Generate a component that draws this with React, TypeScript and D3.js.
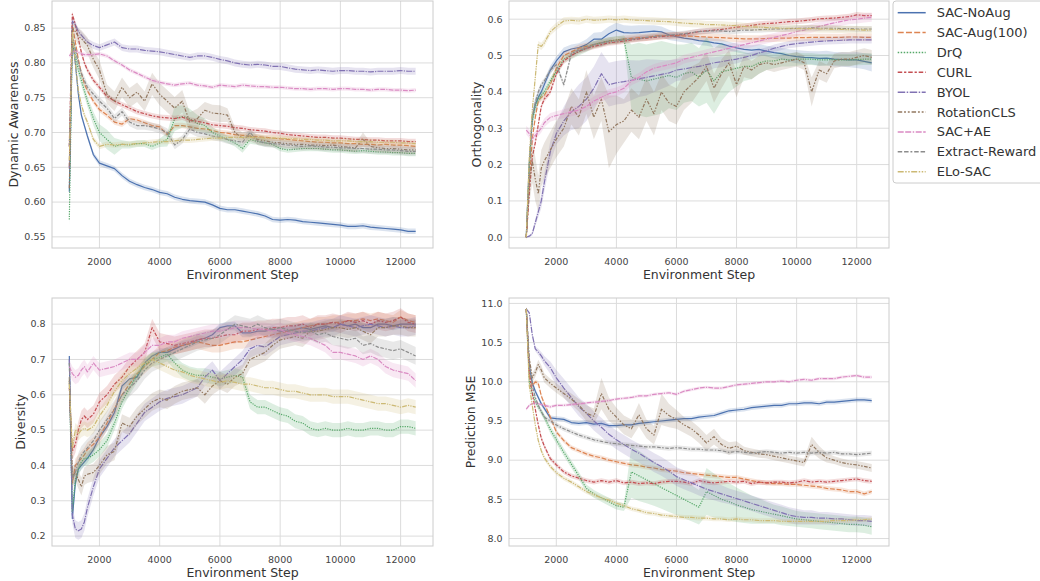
import React from "react";
import * as d3 from "d3";

const steps = [1000, 1100, 1200, 1300, 1400, 1500, 1600, 1800,
  2000, 2250, 2500, 2750, 3000, 3250, 3500, 3750, 4000,
  4250, 4500, 4750, 5000, 5250, 5500, 5750, 6000,
  6250, 6500, 6750, 7000, 7250, 7500, 7750, 8000,
  8250, 8500, 8750, 9000, 9250, 9500, 9750, 10000,
  10250, 10500, 10750, 11000, 11250, 11500, 11750, 12000,
  12250, 12500];

const methods = ["SAC-NoAug", "SAC-Aug(100)", "DrQ", "CURL", "BYOL", "RotationCLS", "SAC+AE", "Extract-Reward", "ELo-SAC"];
const palette = ["#4c72b0", "#dd8452", "#55a868", "#c44e52", "#8172b3", "#937860", "#da8bc3", "#8c8c8c", "#ccb974"];
// seaborn style dash specs (in linewidth units)
const dashes = [[], [4, 1.5], [1, 1], [3, 1.25, 1.5, 1.25], [5, 1, 1, 1], [3, 1.25, 1.25, 1.25, 1.25, 1.25], [4, 1, 4, 1, 1, 1], [3, 1.25, 3, 1.25, 1.25, 1.25], [4, 1, 1, 1, 1, 1]];

const xTicks = [2000, 4000, 6000, 8000, 10000, 12000];

// ---- Dynamic Awareness
const daNoAug = [0.615, 0.835, 0.80, 0.755, 0.725, 0.71, 0.695, 0.668,
  0.656, 0.652, 0.648, 0.638, 0.630, 0.625, 0.621, 0.618, 0.614,
  0.612, 0.607, 0.604, 0.602, 0.601, 0.600, 0.596, 0.591,
  0.589, 0.589, 0.587, 0.585, 0.583, 0.580, 0.575, 0.574,
  0.575, 0.574, 0.572, 0.571, 0.570, 0.569, 0.568, 0.567,
  0.565, 0.565, 0.566, 0.564, 0.563, 0.562, 0.561, 0.560,
  0.558, 0.558];
const daAug = [0.65, 0.855, 0.83, 0.805, 0.785, 0.77, 0.76, 0.745,
  0.733, 0.725, 0.715, 0.712, 0.72, 0.718, 0.714, 0.71, 0.708,
  0.697, 0.71, 0.71, 0.708, 0.706, 0.705, 0.703, 0.70,
  0.699, 0.697, 0.696, 0.695, 0.694, 0.693, 0.692, 0.691,
  0.69, 0.689, 0.688, 0.687, 0.686, 0.686, 0.685, 0.685,
  0.684, 0.684, 0.683, 0.683, 0.682, 0.683, 0.682, 0.682,
  0.681, 0.68];
const daDrq = [0.575, 0.835, 0.81, 0.79, 0.775, 0.76, 0.745, 0.72,
  0.70, 0.69, 0.68, 0.683, 0.682, 0.684, 0.684, 0.68, 0.685,
  0.69, 0.72, 0.723, 0.72, 0.713, 0.71, 0.70, 0.695,
  0.69, 0.685, 0.677, 0.69, 0.687, 0.685, 0.683, 0.677,
  0.675, 0.676, 0.677, 0.677, 0.677, 0.676, 0.675, 0.675,
  0.674, 0.673, 0.674, 0.673, 0.672, 0.672, 0.671, 0.671,
  0.670, 0.670];
const daCurl = [0.68, 0.87, 0.855, 0.835, 0.815, 0.80, 0.79, 0.775,
  0.765, 0.752, 0.745, 0.74, 0.735, 0.73, 0.727, 0.724, 0.722,
  0.721, 0.72, 0.722, 0.718, 0.716, 0.714, 0.711, 0.71,
  0.709, 0.707, 0.706, 0.704, 0.703, 0.702, 0.70, 0.699,
  0.697, 0.696, 0.695, 0.694, 0.693, 0.693, 0.692, 0.692,
  0.691, 0.69, 0.69, 0.689, 0.689, 0.688, 0.688, 0.688,
  0.687, 0.687];
const daByol = [0.648, 0.86, 0.855, 0.845, 0.84, 0.835, 0.83, 0.825,
  0.822, 0.826, 0.83, 0.822, 0.82, 0.82, 0.818, 0.817, 0.816,
  0.814, 0.812, 0.81, 0.808, 0.81, 0.81, 0.808, 0.805,
  0.803, 0.80, 0.798, 0.797, 0.798, 0.797, 0.795, 0.795,
  0.793, 0.791, 0.79, 0.789, 0.79, 0.789, 0.788, 0.789,
  0.789, 0.788, 0.788, 0.787, 0.788, 0.788, 0.788, 0.789,
  0.788, 0.788];
const daRot = [0.62, 0.85, 0.845, 0.838, 0.835, 0.83, 0.825, 0.805,
  0.79, 0.755, 0.745, 0.765, 0.75, 0.758, 0.745, 0.77, 0.755,
  0.745, 0.735, 0.745, 0.715, 0.72, 0.732, 0.728, 0.727,
  0.725, 0.70, 0.692, 0.695, 0.69, 0.688, 0.686, 0.685,
  0.684, 0.683, 0.683, 0.682, 0.682, 0.681, 0.682, 0.68,
  0.679, 0.678, 0.69, 0.68, 0.678, 0.677, 0.677, 0.676,
  0.675, 0.675];
const daAe = [0.81, 0.815, 0.818, 0.815, 0.813, 0.812, 0.812, 0.812,
  0.813, 0.81, 0.803, 0.797, 0.79, 0.785, 0.78, 0.775, 0.772,
  0.77, 0.768, 0.77, 0.771, 0.768, 0.767, 0.765, 0.768,
  0.767, 0.766, 0.768, 0.767, 0.766, 0.766, 0.765, 0.765,
  0.764, 0.763, 0.763, 0.762, 0.763, 0.763, 0.762, 0.763,
  0.763, 0.762, 0.762, 0.761, 0.762, 0.762, 0.761, 0.761,
  0.76, 0.761];
const daReward = [0.68, 0.84, 0.82, 0.80, 0.785, 0.775, 0.765, 0.755,
  0.745, 0.735, 0.72, 0.73, 0.715, 0.71, 0.71, 0.708, 0.705,
  0.70, 0.682, 0.69, 0.705, 0.70, 0.698, 0.695, 0.693,
  0.69, 0.688, 0.686, 0.70, 0.688, 0.685, 0.684, 0.683,
  0.682, 0.681, 0.68, 0.681, 0.68, 0.679, 0.679, 0.678,
  0.678, 0.677, 0.677, 0.676, 0.676, 0.675, 0.675, 0.674,
  0.673, 0.673];
const daElo = [0.66, 0.845, 0.80, 0.76, 0.74, 0.725, 0.715, 0.69,
  0.68, 0.683, 0.682, 0.683, 0.683, 0.684, 0.685, 0.686, 0.687,
  0.687, 0.688, 0.689, 0.689, 0.69, 0.691, 0.692, 0.692,
  0.693, 0.693, 0.693, 0.693, 0.693, 0.692, 0.692, 0.692,
  0.691, 0.691, 0.69, 0.69, 0.689, 0.689, 0.688, 0.688,
  0.688, 0.687, 0.687, 0.687, 0.686, 0.686, 0.686, 0.685,
  0.685, 0.684];
const daDrqBand = [0.01, 0.01, 0.01, 0.008, 0.008, 0.008, 0.008, 0.01,
  0.012, 0.014, 0.012, 0.006, 0.005, 0.005, 0.005, 0.005, 0.006,
  0.01, 0.018, 0.016, 0.014, 0.012, 0.01, 0.008, 0.006,
  0.005, 0.005, 0.006, 0.006, 0.005, 0.005, 0.004, 0.004,
  0.004, 0.004, 0.004, 0.004, 0.004, 0.004, 0.004, 0.004,
  0.004, 0.004, 0.004, 0.004, 0.004, 0.004, 0.004, 0.004,
  0.004, 0.004];
const daRotBand = [0.01, 0.01, 0.012, 0.012, 0.012, 0.012, 0.012, 0.012,
  0.014, 0.014, 0.014, 0.014, 0.014, 0.014, 0.014, 0.016, 0.016,
  0.016, 0.016, 0.016, 0.014, 0.014, 0.012, 0.012, 0.012,
  0.01, 0.008, 0.008, 0.008, 0.007, 0.007, 0.006, 0.006,
  0.006, 0.006, 0.006, 0.006, 0.006, 0.006, 0.006, 0.006,
  0.006, 0.006, 0.01, 0.006, 0.006, 0.006, 0.006, 0.006,
  0.006, 0.006];

// ---- Orthogonality
const orNoAug = [0, 0.2, 0.33, 0.365, 0.385, 0.40, 0.42, 0.46,
  0.485, 0.51, 0.518, 0.522, 0.53, 0.545, 0.545, 0.56, 0.57,
  0.563, 0.562, 0.563, 0.565, 0.567, 0.565, 0.557, 0.552,
  0.548, 0.545, 0.541, 0.539, 0.535, 0.532, 0.526, 0.521,
  0.517, 0.515, 0.517, 0.512, 0.508, 0.505, 0.50, 0.497,
  0.495, 0.494, 0.492, 0.493, 0.49, 0.489, 0.488, 0.488,
  0.484, 0.48];
const orAug = [0, 0.15, 0.27, 0.33, 0.375, 0.385, 0.39, 0.42,
  0.465, 0.50, 0.51, 0.52, 0.525, 0.53, 0.535, 0.54, 0.542,
  0.545, 0.547, 0.549, 0.55, 0.553, 0.555, 0.555, 0.555,
  0.554, 0.553, 0.552, 0.551, 0.55, 0.549, 0.548, 0.547,
  0.546, 0.546, 0.546, 0.547, 0.547, 0.548, 0.548, 0.549,
  0.549, 0.55, 0.55, 0.55, 0.55, 0.55, 0.551, 0.551,
  0.55, 0.55];
const orDrq = [0, 0.2, 0.32, 0.36, 0.38, 0.39, 0.40, 0.43,
  0.455, 0.49, 0.50, 0.51, 0.52, 0.53, 0.535, 0.54, 0.543,
  0.545, 0.44, 0.435, 0.43, 0.435, 0.44, 0.445, 0.44,
  0.45, 0.455, 0.44, 0.46, 0.43, 0.455, 0.46, 0.465,
  0.47, 0.47, 0.48, 0.485, 0.485, 0.49, 0.488, 0.49,
  0.49, 0.49, 0.488, 0.488, 0.489, 0.488, 0.488, 0.489,
  0.49, 0.49];
const orCurl = [0, 0.12, 0.22, 0.26, 0.31, 0.36, 0.38, 0.40,
  0.45, 0.485, 0.50, 0.512, 0.52, 0.525, 0.53, 0.535, 0.537,
  0.54, 0.543, 0.546, 0.548, 0.55, 0.552, 0.554, 0.556,
  0.558, 0.562, 0.566, 0.568, 0.57, 0.572, 0.575, 0.578,
  0.58, 0.583, 0.586, 0.588, 0.589, 0.591, 0.593, 0.594,
  0.596, 0.598, 0.601, 0.602, 0.603, 0.605, 0.607, 0.612,
  0.61, 0.61];
const orByol = [0, 0.003, 0.01, 0.04, 0.07, 0.10, 0.15, 0.235,
  0.285, 0.32, 0.345, 0.36, 0.38, 0.41, 0.45, 0.42, 0.425,
  0.428, 0.432, 0.436, 0.44, 0.444, 0.448, 0.452, 0.46,
  0.463, 0.467, 0.47, 0.475, 0.48, 0.483, 0.487, 0.49,
  0.495, 0.50, 0.507, 0.513, 0.52, 0.525, 0.53, 0.533,
  0.535, 0.537, 0.539, 0.54, 0.541, 0.542, 0.543, 0.543,
  0.543, 0.543];
const orRot = [0, 0.15, 0.21, 0.16, 0.12, 0.19, 0.21, 0.24,
  0.27, 0.30, 0.36, 0.33, 0.40, 0.33, 0.38, 0.29, 0.31,
  0.32, 0.35, 0.33, 0.38, 0.34, 0.40, 0.37, 0.36,
  0.40, 0.42, 0.44, 0.47, 0.41, 0.45, 0.48, 0.42,
  0.47, 0.46, 0.475, 0.48, 0.475, 0.48, 0.485, 0.49,
  0.48, 0.40, 0.46, 0.45, 0.485, 0.49, 0.49, 0.495,
  0.50, 0.495];
const orAe = [0.295, 0.285, 0.27, 0.28, 0.29, 0.30, 0.315, 0.33,
  0.335, 0.34, 0.345, 0.35, 0.36, 0.375, 0.385, 0.395, 0.40,
  0.41, 0.43, 0.44, 0.455, 0.465, 0.47, 0.475, 0.48,
  0.49, 0.495, 0.50, 0.505, 0.51, 0.515, 0.52, 0.525,
  0.53, 0.535, 0.54, 0.545, 0.55, 0.555, 0.56, 0.566,
  0.57, 0.575, 0.58, 0.585, 0.59, 0.594, 0.598, 0.60,
  0.603, 0.605];
const orReward = [0, 0.2, 0.33, 0.37, 0.40, 0.42, 0.43, 0.46,
  0.475, 0.42, 0.505, 0.515, 0.52, 0.53, 0.535, 0.538, 0.54,
  0.543, 0.545, 0.547, 0.55, 0.552, 0.554, 0.556, 0.558,
  0.56, 0.563, 0.566, 0.567, 0.568, 0.568, 0.566, 0.568,
  0.57, 0.57, 0.571, 0.572, 0.573, 0.573, 0.574, 0.575,
  0.575, 0.576, 0.575, 0.575, 0.575, 0.574, 0.574, 0.573,
  0.573, 0.573];
const orElo = [0, 0.22, 0.35, 0.44, 0.53, 0.525, 0.535, 0.565,
  0.58, 0.595, 0.597, 0.595, 0.60, 0.597, 0.598, 0.60, 0.598,
  0.60, 0.598, 0.597, 0.596, 0.595, 0.594, 0.593, 0.591,
  0.589, 0.588, 0.587, 0.585, 0.585, 0.584, 0.583, 0.582,
  0.58, 0.579, 0.578, 0.577, 0.576, 0.575, 0.575, 0.574,
  0.574, 0.574, 0.573, 0.573, 0.572, 0.572, 0.571, 0.571,
  0.57, 0.57];
const orNoAugBand = [0, 0.02, 0.02, 0.02, 0.015, 0.015, 0.012, 0.012,
  0.012, 0.012, 0.012, 0.012, 0.015, 0.018, 0.02, 0.02, 0.02,
  0.02, 0.02, 0.02, 0.018, 0.016, 0.015, 0.014, 0.013,
  0.012, 0.012, 0.012, 0.012, 0.012, 0.012, 0.012, 0.012,
  0.012, 0.013, 0.014, 0.015, 0.016, 0.016, 0.017, 0.018,
  0.018, 0.018, 0.02, 0.02, 0.02, 0.02, 0.02, 0.022,
  0.022, 0.024];
const orDrqBand = [0, 0.02, 0.02, 0.015, 0.012, 0.012, 0.01, 0.01,
  0.01, 0.01, 0.01, 0.01, 0.01, 0.01, 0.01, 0.01, 0.01,
  0.01, 0.09, 0.1, 0.1, 0.1, 0.1, 0.09, 0.09,
  0.08, 0.08, 0.08, 0.09, 0.09, 0.08, 0.06, 0.05,
  0.04, 0.035, 0.03, 0.025, 0.02, 0.02, 0.018, 0.018,
  0.016, 0.016, 0.016, 0.016, 0.016, 0.016, 0.016, 0.016,
  0.016, 0.016];
const orByolBand = [0, 0.003, 0.005, 0.01, 0.015, 0.02, 0.025, 0.03,
  0.03, 0.04, 0.05, 0.06, 0.06, 0.06, 0.06, 0.06, 0.06,
  0.06, 0.055, 0.05, 0.05, 0.045, 0.04, 0.035, 0.03,
  0.03, 0.025, 0.02, 0.02, 0.015, 0.015, 0.012, 0.012,
  0.01, 0.01, 0.01, 0.01, 0.01, 0.01, 0.01, 0.01,
  0.01, 0.01, 0.01, 0.01, 0.01, 0.01, 0.01, 0.01,
  0.01, 0.01];
const orRotBand = [0, 0.06, 0.06, 0.06, 0.05, 0.05, 0.05, 0.05,
  0.05, 0.05, 0.05, 0.05, 0.06, 0.06, 0.06, 0.1, 0.08,
  0.06, 0.06, 0.06, 0.06, 0.06, 0.05, 0.05, 0.05,
  0.05, 0.05, 0.04, 0.04, 0.04, 0.04, 0.035, 0.035,
  0.03, 0.025, 0.025, 0.02, 0.02, 0.02, 0.02, 0.02,
  0.02, 0.04, 0.025, 0.025, 0.02, 0.02, 0.02, 0.02,
  0.02, 0.02];

// ---- Diversity
const dvNoAug = [0.71, 0.25, 0.35, 0.39, 0.40, 0.41, 0.42, 0.445,
  0.48, 0.51, 0.55, 0.625, 0.645, 0.65, 0.69, 0.71, 0.72,
  0.72, 0.73, 0.74, 0.745, 0.755, 0.76, 0.77, 0.79,
  0.795, 0.795, 0.775, 0.775, 0.78, 0.78, 0.785, 0.78,
  0.78, 0.785, 0.79, 0.785, 0.79, 0.795, 0.79, 0.80,
  0.795, 0.80, 0.79, 0.79, 0.80, 0.80, 0.795, 0.80,
  0.80, 0.80];
const dvAug = [0.64, 0.35, 0.40, 0.41, 0.42, 0.43, 0.445, 0.46,
  0.48, 0.52, 0.56, 0.60, 0.63, 0.66, 0.68, 0.70, 0.72,
  0.725, 0.735, 0.74, 0.745, 0.75, 0.745, 0.74, 0.74,
  0.745, 0.75, 0.75, 0.755, 0.76, 0.765, 0.77, 0.775,
  0.78, 0.785, 0.79, 0.795, 0.80, 0.80, 0.805, 0.805,
  0.81, 0.81, 0.815, 0.81, 0.815, 0.81, 0.805, 0.82,
  0.81, 0.805];
const dvDrq = [0.64, 0.27, 0.36, 0.39, 0.41, 0.42, 0.42, 0.43,
  0.445, 0.47, 0.52, 0.58, 0.62, 0.655, 0.685, 0.70, 0.705,
  0.715, 0.69, 0.67, 0.66, 0.655, 0.655, 0.65, 0.645,
  0.65, 0.655, 0.65, 0.58, 0.565, 0.565, 0.555, 0.545,
  0.54, 0.525, 0.52, 0.505, 0.50, 0.505, 0.50, 0.50,
  0.505, 0.50, 0.50, 0.505, 0.505, 0.50, 0.50, 0.51,
  0.51, 0.505];
const dvCurl = [0.62, 0.44, 0.46, 0.50, 0.53, 0.54, 0.53, 0.545,
  0.58, 0.60, 0.63, 0.65, 0.68, 0.70, 0.72, 0.79, 0.75,
  0.745, 0.74, 0.745, 0.75, 0.755, 0.76, 0.76, 0.765,
  0.77, 0.77, 0.78, 0.78, 0.785, 0.785, 0.79, 0.79,
  0.795, 0.795, 0.80, 0.79, 0.80, 0.80, 0.805, 0.80,
  0.81, 0.805, 0.81, 0.80, 0.81, 0.805, 0.81, 0.82,
  0.805, 0.80];
const dvByol = [0.70, 0.26, 0.22, 0.215, 0.22, 0.24, 0.28, 0.34,
  0.39, 0.42, 0.45, 0.47, 0.49, 0.52, 0.55, 0.565, 0.58,
  0.59, 0.595, 0.60, 0.61, 0.62, 0.65, 0.67, 0.64,
  0.66, 0.68, 0.70, 0.73, 0.74, 0.735, 0.75, 0.765,
  0.77, 0.775, 0.78, 0.78, 0.785, 0.79, 0.79, 0.80,
  0.795, 0.79, 0.795, 0.80, 0.795, 0.79, 0.795, 0.79,
  0.79, 0.795];
const dvRot = [0.65, 0.37, 0.38, 0.36, 0.34, 0.37, 0.375, 0.38,
  0.40, 0.43, 0.44, 0.52, 0.51, 0.54, 0.56, 0.58, 0.59,
  0.585, 0.60, 0.61, 0.615, 0.62, 0.60, 0.625, 0.64,
  0.63, 0.65, 0.66, 0.70, 0.71, 0.72, 0.74, 0.755,
  0.76, 0.765, 0.76, 0.78, 0.78, 0.785, 0.79, 0.79,
  0.785, 0.79, 0.78, 0.77, 0.79, 0.79, 0.795, 0.795,
  0.79, 0.79];
const dvAe = [0.68, 0.66, 0.65, 0.655, 0.67, 0.68, 0.665, 0.69,
  0.67, 0.675, 0.68, 0.69, 0.70, 0.70, 0.72, 0.74, 0.74,
  0.75, 0.75, 0.76, 0.765, 0.77, 0.775, 0.78, 0.78,
  0.785, 0.79, 0.79, 0.79, 0.785, 0.785, 0.78, 0.785,
  0.775, 0.77, 0.765, 0.76, 0.75, 0.74, 0.72, 0.72,
  0.715, 0.71, 0.70, 0.71, 0.70, 0.68, 0.67, 0.665,
  0.66, 0.64];
const dvReward = [0.69, 0.36, 0.38, 0.41, 0.43, 0.44, 0.45, 0.47,
  0.50, 0.53, 0.56, 0.60, 0.62, 0.64, 0.67, 0.69, 0.70,
  0.71, 0.72, 0.73, 0.74, 0.75, 0.755, 0.76, 0.77,
  0.785, 0.80, 0.795, 0.79, 0.80, 0.79, 0.785, 0.79,
  0.785, 0.78, 0.775, 0.78, 0.77, 0.775, 0.765, 0.76,
  0.755, 0.76, 0.74, 0.745, 0.735, 0.73, 0.725, 0.73,
  0.72, 0.71];
const dvElo = [0.63, 0.45, 0.50, 0.49, 0.50, 0.505, 0.50, 0.51,
  0.54, 0.57, 0.61, 0.64, 0.66, 0.675, 0.69, 0.70, 0.69,
  0.68, 0.67, 0.665, 0.655, 0.65, 0.645, 0.64, 0.635,
  0.64, 0.635, 0.63, 0.63, 0.625, 0.62, 0.62, 0.615,
  0.61, 0.61, 0.605, 0.60, 0.60, 0.60, 0.595, 0.595,
  0.595, 0.59, 0.585, 0.58, 0.575, 0.575, 0.57, 0.565,
  0.57, 0.565];

// ---- Prediction MSE
const pmNoAug = [10.93, 10.2, 9.99, 9.88, 9.8, 9.72, 9.66, 9.54,
  9.53, 9.52, 9.48, 9.47, 9.48, 9.46, 9.47, 9.44, 9.44,
  9.45, 9.45, 9.47, 9.48, 9.49, 9.5, 9.51, 9.52,
  9.53, 9.53, 9.55, 9.56, 9.57, 9.6, 9.63, 9.64,
  9.65, 9.67, 9.68, 9.69, 9.7, 9.7, 9.72, 9.72,
  9.73, 9.73, 9.72, 9.74, 9.74, 9.75, 9.76, 9.77,
  9.77, 9.76];
const pmAug = [10.93, 10.1, 9.95, 10.0, 9.98, 9.82, 9.72, 9.55,
  9.36, 9.25, 9.16, 9.12, 9.08, 9.05, 9.03, 9.0, 8.98,
  8.96, 8.94, 8.93, 8.91, 8.9, 8.88, 8.87, 8.86,
  8.84, 8.83, 8.82, 8.81, 8.8, 8.79, 8.78, 8.78,
  8.76, 8.74, 8.72, 8.71, 8.7, 8.7, 8.69, 8.69,
  8.68, 8.67, 8.66, 8.64, 8.63, 8.62, 8.6, 8.6,
  8.57, 8.6];
const pmDrq = [10.93, 10.0, 9.85, 9.75, 9.68, 9.62, 9.55, 9.39,
  9.26, 9.1, 8.95, 8.8, 8.64, 8.57, 8.52, 8.47, 8.42,
  8.4, 8.85, 8.8, 8.75, 8.7, 8.65, 8.6, 8.55,
  8.5, 8.45, 8.4, 8.6, 8.55, 8.5, 8.47, 8.43,
  8.4, 8.37, 8.35, 8.33, 8.31, 8.29, 8.27, 8.25,
  8.24, 8.23, 8.22, 8.21, 8.2, 8.19, 8.18, 8.18,
  8.17, 8.15];
const pmCurl = [10.93, 10.1, 9.85, 9.65, 9.45, 9.28, 9.18, 9.02,
  8.94, 8.85, 8.8, 8.77, 8.74, 8.72, 8.74, 8.72, 8.74,
  8.71, 8.72, 8.7, 8.71, 8.7, 8.72, 8.73, 8.73,
  8.72, 8.7, 8.74, 8.72, 8.71, 8.72, 8.73, 8.72,
  8.73, 8.7, 8.72, 8.71, 8.72, 8.72, 8.71, 8.72,
  8.74, 8.72, 8.73, 8.72, 8.73, 8.74, 8.75, 8.76,
  8.74, 8.73];
const pmByol = [10.93, 10.88, 10.6, 10.42, 10.38, 10.33, 10.27, 10.18,
  10.05, 9.92, 9.8, 9.68, 9.6, 9.5, 9.42, 9.33, 9.26,
  9.2, 9.14, 9.09, 9.03, 8.97, 8.92, 8.86, 8.79,
  8.75, 8.71, 8.67, 8.63, 8.6, 8.57, 8.54, 8.51,
  8.48, 8.45, 8.42, 8.39, 8.36, 8.33, 8.3, 8.28,
  8.27, 8.27, 8.26, 8.26, 8.25, 8.25, 8.24, 8.23,
  8.23, 8.22];
const pmRot = [10.93, 10.3, 10.05, 10.12, 10.22, 10.15, 10.05, 9.98,
  9.92, 9.85, 9.78, 9.7, 9.6, 9.56, 9.85, 9.65, 9.55,
  9.45, 9.4, 9.58, 9.4, 9.32, 9.65, 9.57, 9.52,
  9.45, 9.4, 9.32, 9.22, 9.3, 9.2, 9.15, 9.18,
  9.12, 9.1, 9.08, 9.07, 9.05, 9.03, 9.01, 8.99,
  8.97, 9.2, 9.1, 9.03, 9.0, 8.97, 8.95, 8.94,
  8.92, 8.9];
const pmAe = [9.65, 9.7, 9.72, 9.73, 9.72, 9.71, 9.7, 9.68,
  9.7, 9.7, 9.71, 9.72, 9.73, 9.74, 9.75, 9.76, 9.78,
  9.79, 9.8, 9.82, 9.82, 9.84, 9.85, 9.86, 9.84,
  9.88, 9.9, 9.92, 9.93, 9.92, 9.92, 9.94, 9.96,
  9.97, 9.98, 9.99, 10.0, 10.0, 10.01, 10.0, 10.02,
  10.03, 10.02, 10.04, 10.04, 10.04, 10.06, 10.07, 10.08,
  10.06, 10.06];
const pmReward = [10.93, 10.2, 9.95, 9.8, 9.7, 9.62, 9.55, 9.5,
  9.45, 9.4, 9.36, 9.32, 9.29, 9.26, 9.24, 9.22, 9.21,
  9.2, 9.19, 9.18, 9.17, 9.17, 9.16, 9.15, 9.16,
  9.15, 9.14, 9.14, 9.13, 9.13, 9.12, 9.1, 9.11,
  9.1, 9.09, 9.1, 9.11, 9.1, 9.09, 9.1, 9.09,
  9.1, 9.09, 9.1, 9.09, 9.1, 9.08, 9.08, 9.07,
  9.08, 9.09];
const pmElo = [10.93, 9.95, 9.7, 9.45, 9.25, 9.12, 9.03, 8.92,
  8.84, 8.77, 8.72, 8.66, 8.6, 8.56, 8.52, 8.49, 8.45,
  8.42, 8.38, 8.36, 8.33, 8.32, 8.3, 8.29, 8.28,
  8.27, 8.27, 8.26, 8.26, 8.25, 8.25, 8.24, 8.25,
  8.24, 8.24, 8.23, 8.23, 8.23, 8.22, 8.22, 8.22,
  8.22, 8.22, 8.22, 8.22, 8.23, 8.23, 8.23, 8.24,
  8.24, 8.25];
const pmDrqBand = [0, 0.04, 0.04, 0.04, 0.04, 0.04, 0.04, 0.05,
  0.05, 0.05, 0.05, 0.05, 0.05, 0.05, 0.05, 0.05, 0.05,
  0.05, 0.33, 0.32, 0.3, 0.28, 0.27, 0.26, 0.25,
  0.24, 0.23, 0.22, 0.3, 0.28, 0.26, 0.24, 0.22,
  0.2, 0.18, 0.16, 0.14, 0.12, 0.12, 0.11, 0.1,
  0.1, 0.1, 0.1, 0.1, 0.1, 0.1, 0.1, 0.1,
  0.1, 0.1];
const pmByolBand = [0, 0.02, 0.03, 0.03, 0.04, 0.05, 0.06, 0.08,
  0.1, 0.12, 0.12, 0.12, 0.12, 0.12, 0.12, 0.12, 0.12,
  0.12, 0.12, 0.12, 0.12, 0.12, 0.12, 0.12, 0.12,
  0.12, 0.12, 0.12, 0.12, 0.11, 0.11, 0.1, 0.1,
  0.1, 0.1, 0.1, 0.1, 0.1, 0.1, 0.1, 0.1,
  0.09, 0.09, 0.08, 0.08, 0.08, 0.07, 0.07, 0.07,
  0.07, 0.07];
const pmRotBand = [0, 0.06, 0.06, 0.06, 0.06, 0.06, 0.06, 0.06,
  0.06, 0.06, 0.07, 0.08, 0.1, 0.1, 0.2, 0.15, 0.12,
  0.12, 0.12, 0.15, 0.12, 0.12, 0.2, 0.15, 0.12,
  0.1, 0.1, 0.1, 0.1, 0.1, 0.08, 0.08, 0.06,
  0.05, 0.05, 0.05, 0.05, 0.05, 0.05, 0.05, 0.05,
  0.05, 0.1, 0.08, 0.06, 0.05, 0.05, 0.05, 0.05,
  0.05, 0.05];

type Band = number | number[];
type PanelSpec = {
  label: string; x0: number; x1: number; y0: number; y1: number;
  yDomain: [number, number]; yTicks: number[]; fmt: string; ylabelX: number;
  series: number[][]; bands: Band[];
};

const xDomain: [number, number] = [425, 13075];

const panels: PanelSpec[] = [
  {
    label: "Dynamic Awareness", x0: 52, x1: 433, y0: 1, y1: 248,
    yDomain: [0.534, 0.889], yTicks: [0.55, 0.6, 0.65, 0.7, 0.75, 0.8, 0.85], fmt: ".2f", ylabelX: 14,
    series: [daNoAug, daAug, daDrq, daCurl, daByol, daRot, daAe, daReward, daElo],
    bands: [0.004, 0.004, daDrqBand, 0.004, 0.005, daRotBand, 0.003, 0.006, 0.004],
  },
  {
    label: "Orthogonality", x0: 509, x1: 889, y0: 1, y1: 248,
    yDomain: [-0.0295, 0.65], yTicks: [0, 0.1, 0.2, 0.3, 0.4, 0.5, 0.6], fmt: ".1f", ylabelX: 477,
    series: [orNoAug, orAug, orDrq, orCurl, orByol, orRot, orAe, orReward, orElo],
    bands: [orNoAugBand, 0.01, orDrqBand, 0.008, orByolBand, orRotBand, 0.012, 0.008, 0.01],
  },
  {
    label: "Diversity", x0: 52, x1: 433, y0: 298, y1: 546,
    yDomain: [0.172, 0.874], yTicks: [0.2, 0.3, 0.4, 0.5, 0.6, 0.7, 0.8], fmt: ".1f", ylabelX: 21,
    series: [dvNoAug, dvAug, dvDrq, dvCurl, dvByol, dvRot, dvAe, dvReward, dvElo],
    bands: [0.012, 0.02, 0.02, 0.025, 0.025, 0.025, 0.02, 0.025, 0.02],
  },
  {
    label: "Prediction MSE", x0: 509, x1: 889, y0: 298, y1: 546,
    yDomain: [7.905, 11.069], yTicks: [8, 8.5, 9, 9.5, 10, 10.5, 11], fmt: ".1f", ylabelX: 471,
    series: [pmNoAug, pmAug, pmDrq, pmCurl, pmByol, pmRot, pmAe, pmReward, pmElo],
    bands: [0.03, 0.03, pmDrqBand, 0.03, pmByolBand, pmRotBand, 0.02, 0.03, 0.03],
  },
];

const LW = 1.2;
const dashStr = (i: number, lw: number) => dashes[i].length ? dashes[i].map((d) => d * lw).join(",") : undefined;

function PanelView({ p, id }: { p: PanelSpec; id: number }) {
  const x = d3.scaleLinear().domain(xDomain).range([p.x0, p.x1]);
  const y = d3.scaleLinear().domain(p.yDomain).range([p.y1, p.y0]);
  const fmt = d3.format(p.fmt);
  const clip = `clip-${id}`;
  const line = d3.line<[number, number]>().x((d) => x(d[0])).y((d) => y(d[1]));
  const area = d3.area<[number, number, number]>().x((d) => x(d[0])).y0((d) => y(d[1])).y1((d) => y(d[2]));
  const cx = (p.x0 + p.x1) / 2;
  const cy = (p.y0 + p.y1) / 2;

  return (
    <g>
      <defs>
        <clipPath id={clip}>
          <rect x={p.x0} y={p.y0} width={p.x1 - p.x0} height={p.y1 - p.y0} />
        </clipPath>
      </defs>
      {xTicks.map((t) => (
        <line key={"gx" + t} x1={x(t)} x2={x(t)} y1={p.y0} y2={p.y1} stroke="#dcdcdc" strokeWidth={1} />
      ))}
      {p.yTicks.map((t) => (
        <line key={"gy" + t} x1={p.x0} x2={p.x1} y1={y(t)} y2={y(t)} stroke="#dcdcdc" strokeWidth={1} />
      ))}
      <g clipPath={`url(#${clip})`}>
        {p.series.map((vals, i) => {
          const b = p.bands[i];
          const bandPts = steps.map((s, j) => {
            const w = typeof b === "number" ? b : b[j];
            return [s, vals[j] - w, vals[j] + w] as [number, number, number];
          });
          const pts = steps.map((s, j) => [s, vals[j]] as [number, number]);
          return (
            <g key={methods[i]}>
              <path d={area(bandPts) || ""} fill={palette[i]} fillOpacity={0.2} stroke="none" />
              <path d={line(pts) || ""} fill="none" stroke={palette[i]} strokeWidth={LW}
                strokeDasharray={dashStr(i, LW)} strokeLinejoin="round" />
            </g>
          );
        })}
      </g>
      <rect x={p.x0} y={p.y0} width={p.x1 - p.x0} height={p.y1 - p.y0} fill="none" stroke="#cccccc" strokeWidth={1} />
      {xTicks.map((t) => (
        <text key={"tx" + t} x={x(t)} y={p.y1 + 17} textAnchor="middle" fontSize={9.5} fill="#444">{t}</text>
      ))}
      {p.yTicks.map((t) => (
        <text key={"ty" + t} x={p.x0 - 6.5} y={y(t)} dy="0.35em" textAnchor="end" fontSize={9.5} fill="#444">{fmt(t)}</text>
      ))}
      <text x={cx} y={p.y1 + 31} textAnchor="middle" fontSize={12.5} fill="#333">Environment Step</text>
      <text transform={`translate(${p.ylabelX},${cy}) rotate(-90)`} dy="0.35em" textAnchor="middle" fontSize={12.5} fill="#333">{p.label}</text>
    </g>
  );
}

function Legend() {
  const top = 12.7;
  const gap = 19.87;
  return (
    <g>
      <rect x={893} y={1} width={160} height={182} rx={3} fill="#fff" stroke="#cccccc" strokeWidth={1} />
      {methods.map((m, i) => (
        <g key={m}>
          <line x1={897.7} x2={925.7} y1={top + i * gap} y2={top + i * gap} stroke={palette[i]} strokeWidth={1.5}
            strokeDasharray={dashStr(i, 1.5)} />
          <text x={936.7} y={top + i * gap} dy="0.35em" fontSize={13} fill="#333">{m}</text>
        </g>
      ))}
    </g>
  );
}

export default function App() {
  return (
    <svg width={1040} height={581} style={{ position: "absolute", left: 0, top: 0, background: "#fff" }}
      fontFamily="DejaVu Sans, sans-serif">
      <rect x={0} y={0} width={1040} height={581} fill="#fff" />
      {panels.map((p, k) => <PanelView key={p.label} p={p} id={k} />)}
      <Legend />
    </svg>
  );
}
